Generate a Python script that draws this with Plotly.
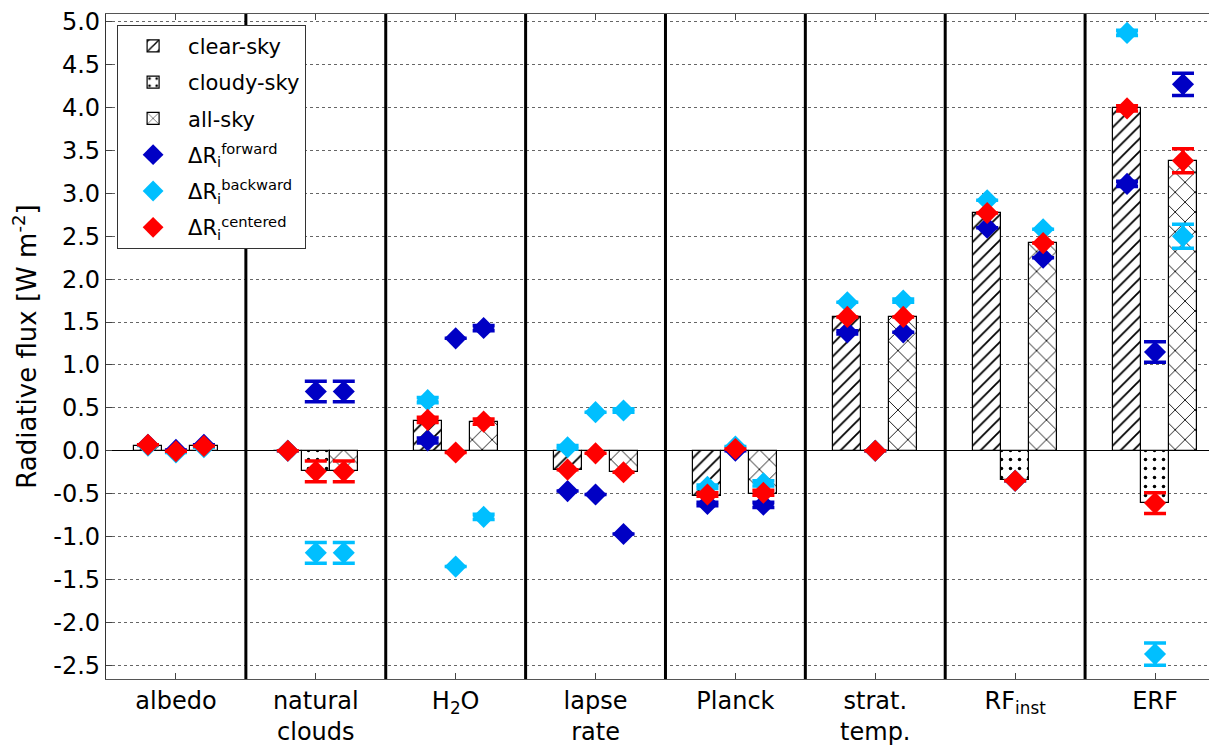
import plotly.graph_objects as go

categories = ["albedo", "natural<br>clouds", "H<sub>2</sub>O", "lapse<br>rate", "Planck",
              "strat.<br>temp.", "RF<sub>inst</sub>", "ERF"]

# bar values (clear-sky, cloudy-sky, all-sky)
bar_clear = [0.06, 0.0, 0.35, -0.22, -0.53, 1.56, 2.77, 3.99]
bar_cloudy = [0.0, -0.24, 0.0, 0.0, 0.0, 0.0, -0.34, -0.61]
bar_all = [0.05, -0.24, 0.33, -0.25, -0.50, 1.56, 2.42, 3.38]

# forward differences
fwd_clear = [0.07, 0.0, 0.12, -0.47, -0.62, 1.38, 2.60, 3.11]
fwd_cloudy = [0.01, 0.69, 1.31, -0.51, 0.0, 0.0, -0.35, 1.15]
fwd_all = [0.07, 0.69, 1.43, -0.97, -0.63, 1.38, 2.25, 4.27]
fwd_err_clear = [0, 0, 0.03, 0, 0.02, 0.02, 0, 0.03]
fwd_err_cloudy = [0, 0.12, 0, 0, 0, 0, 0, 0.12]
fwd_err_all = [0, 0.12, 0.03, 0, 0.03, 0, 0, 0.13]

# backward differences
bwd_clear = [0.06, 0.0, 0.59, 0.04, -0.42, 1.73, 2.92, 4.87]
bwd_cloudy = [-0.02, -1.19, -1.35, 0.45, 0.05, 0.0, -0.35, -2.37]
bwd_all = [0.04, -1.19, -0.77, 0.47, -0.38, 1.75, 2.58, 2.50]
bwd_err_clear = [0, 0, 0.03, 0.02, 0.02, 0, 0, 0.03]
bwd_err_cloudy = [0, 0.12, 0, 0, 0, 0, 0, 0.13]
bwd_err_all = [0, 0.12, 0.03, 0.02, 0.03, 0.02, 0, 0.14]

# centered differences
cen_clear = [0.07, 0.0, 0.36, -0.22, -0.51, 1.56, 2.77, 3.99]
cen_cloudy = [-0.005, -0.24, -0.02, -0.03, 0.02, 0.0, -0.35, -0.61]
cen_all = [0.055, -0.24, 0.34, -0.25, -0.49, 1.56, 2.42, 3.38]
cen_err_clear = [0, 0, 0.03, 0, 0.02, 0, 0, 0.03]
cen_err_cloudy = [0, 0.12, 0, 0, 0, 0, 0, 0.12]
cen_err_all = [0, 0.12, 0.03, 0, 0.03, 0, 0, 0.14]

yticks = [5.0, 4.5, 4.0, 3.5, 3.0, 2.5, 2.0, 1.5, 1.0, 0.5, 0.0, -0.5, -1.0, -1.5, -2.0, -2.5]

n = len(categories)
offs = {"clear": -0.2, "cloudy": 0.0, "all": 0.2}
bw = 0.2

fig = go.Figure()

for name, vals, key, shape, psize, sol in [
    ("clear-sky", bar_clear, "clear", "/", 9, 0.2),
    ("cloudy-sky", bar_cloudy, "cloudy", ".", 9, 0.12),
    ("all-sky", bar_all, "all", "x", 14, 0.12),
]:
    fig.add_trace(go.Bar(
        x=[i + offs[key] for i in range(n)], y=vals, width=bw, name=name,
        legendgroup=name,
        marker=dict(color="white", line=dict(color="black", width=1.2),
                    pattern=dict(shape=shape, fgcolor="black", bgcolor="white",
                                 fgopacity=1, size=psize, solidity=sol)),
    ))

series = [
    ("ΔR<sub>i</sub><sup>forward</sup>", "#0000c4",
     (fwd_clear, fwd_cloudy, fwd_all), (fwd_err_clear, fwd_err_cloudy, fwd_err_all)),
    ("ΔR<sub>i</sub><sup>backward</sup>", "#00bfff",
     (bwd_clear, bwd_cloudy, bwd_all), (bwd_err_clear, bwd_err_cloudy, bwd_err_all)),
    ("ΔR<sub>i</sub><sup>centered</sup>", "#ff0000",
     (cen_clear, cen_cloudy, cen_all), (cen_err_clear, cen_err_cloudy, cen_err_all)),
]
for name, color, vals3, errs3 in series:
    xs, ys, es = [], [], []
    for key, v, e in zip(["clear", "cloudy", "all"], vals3, errs3):
        xs += [i + offs[key] for i in range(n)]
        ys += list(v)
        es += list(e)
    fig.add_trace(go.Scatter(
        x=xs, y=ys, mode="markers", name=name, legendgroup=name,
        marker=dict(symbol="diamond", size=17, color=color, line=dict(width=0)),
        error_y=dict(type="data", array=es, visible=True, color=color,
                     thickness=3.5, width=11),
    ))

shapes = []
for i in range(n - 1):
    shapes.append(dict(type="line", xref="x", yref="paper", x0=i + 0.5, x1=i + 0.5,
                       y0=0, y1=1, line=dict(color="black", width=3)))

fig.update_layout(
    width=1209, height=738,
    margin=dict(l=98, r=0, t=4, b=66),
    paper_bgcolor="white", plot_bgcolor="white",
    barmode="overlay", bargap=0,
    shapes=shapes,
    font=dict(family="DejaVu Sans", color="black"),
    showlegend=True,
    legend=dict(x=0.01, y=0.984, xanchor="left", yanchor="top",
                bgcolor="white", bordercolor="#333333", borderwidth=1,
                font=dict(size=21, family="DejaVu Sans"),
                traceorder="grouped", itemwidth=60, tracegroupgap=6,
                itemsizing="trace"),
    xaxis=dict(range=[-0.5, 7.436], tickmode="array", tickvals=list(range(n)),
               ticktext=categories, ticks="inside", ticklen=6, tickcolor="#444",
               showline=True, linecolor="#555", linewidth=1.2, mirror="ticks",
               showgrid=False, zeroline=False,
               tickfont=dict(size=24, family="DejaVu Sans")),
    yaxis=dict(range=[-2.66, 5.09], tickmode="array", tickvals=yticks,
               ticktext=[f"{t:.1f}" for t in yticks], ticks="inside", ticklen=6,
               tickcolor="#444", showline=True, linecolor="#333", linewidth=1.2,
               mirror="ticks", showgrid=True, gridcolor="#666", griddash="dot",
               gridwidth=1, zeroline=True, zerolinecolor="black", zerolinewidth=1.2,
               ticklabeloverflow="allow",
               tickfont=dict(size=24, family="DejaVu Sans"),
               title=dict(text="Radiative flux [W m<sup>-2</sup>]", standoff=14,
                          font=dict(size=26, family="DejaVu Sans"))),
)

fig.write_html("out.html")
